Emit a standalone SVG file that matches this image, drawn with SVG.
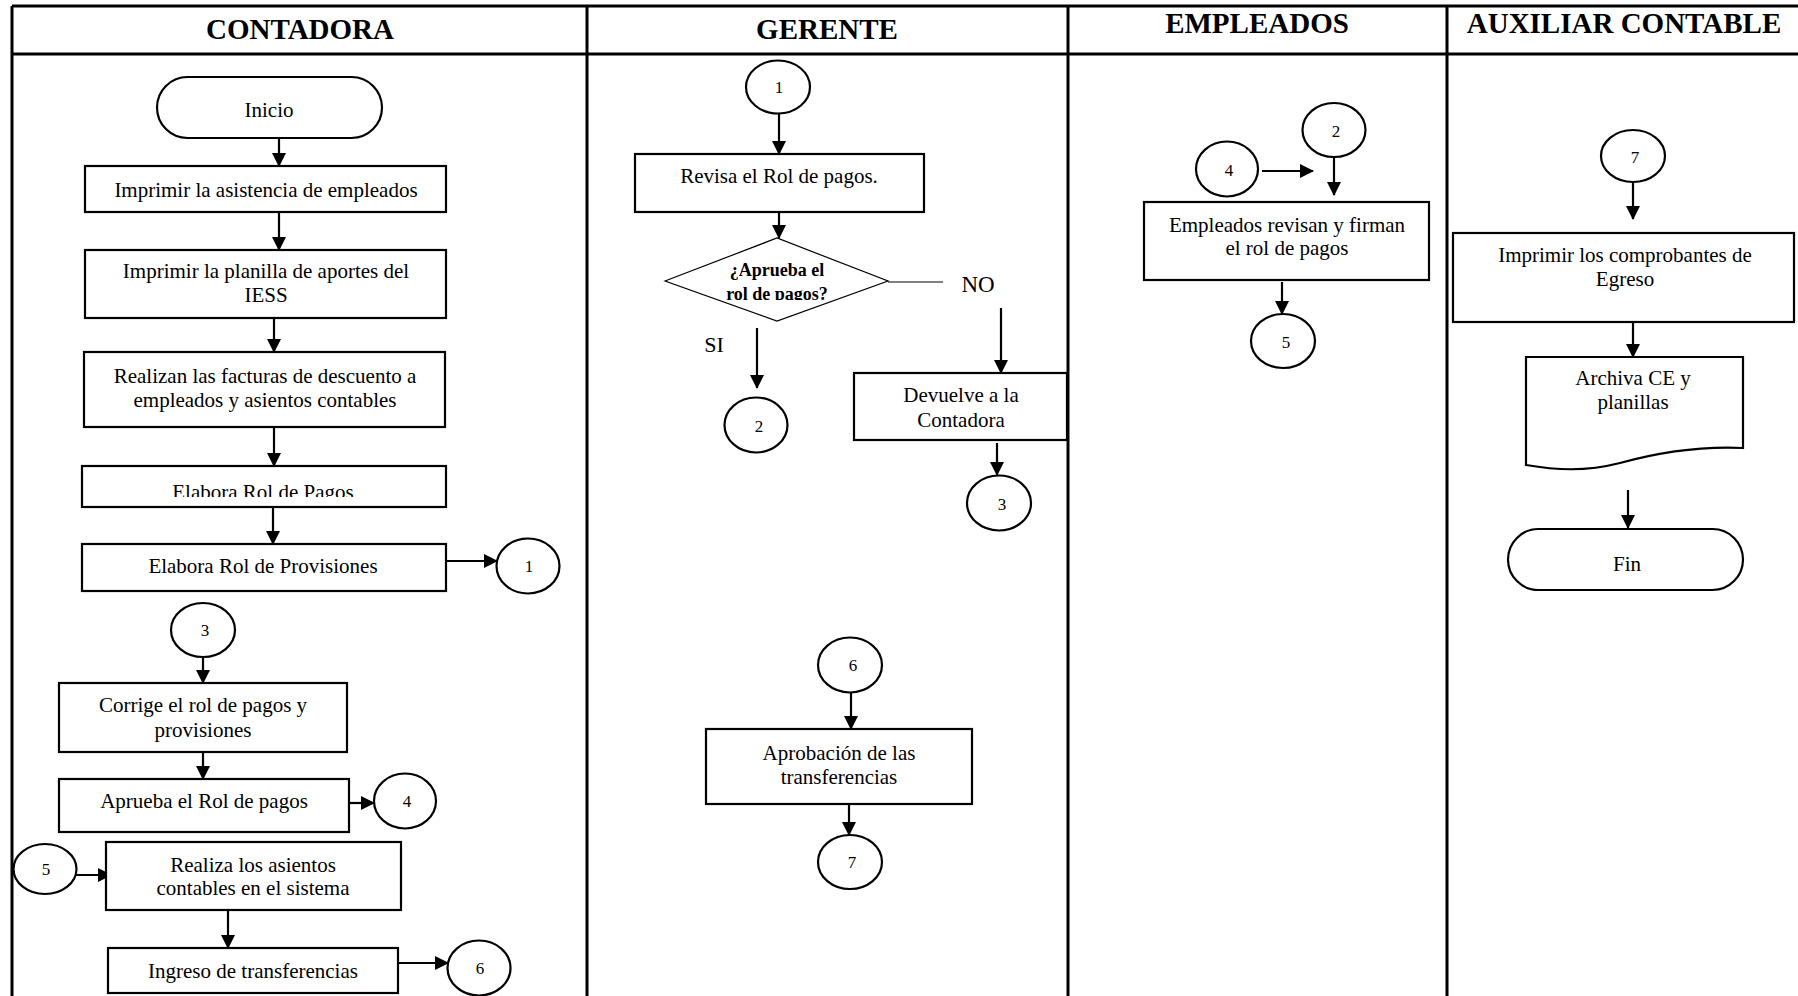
<svg xmlns="http://www.w3.org/2000/svg" width="1798" height="996" viewBox="0 0 1798 996">
  <style>
    text { font-family: "Liberation Serif", "Times New Roman", serif; fill: #000; }
    .hdr { font-size: 29px; font-weight: bold; text-anchor: middle; }
    .lbl { font-size: 21px; text-anchor: middle; }
    .num { font-size: 17px; text-anchor: middle; }
    .dec { font-size: 18px; font-weight: bold; text-anchor: middle; }
    .lane { stroke: #000; stroke-width: 3; fill: none; }
    .box { fill: #fff; stroke: #000; stroke-width: 2.2; }
    .circ { fill: #fff; stroke: #000; stroke-width: 2.2; }
    .thin { fill: #fff; stroke: #000; stroke-width: 1.2; }
    .arr { stroke: #000; stroke-width: 2.2; fill: none; marker-end: url(#head); }
    .ln { stroke: #000; stroke-width: 1.2; fill: none; }
  </style>
  <defs>
    <marker id="head" markerUnits="userSpaceOnUse" markerWidth="14" markerHeight="14" viewBox="0 0 14 14" refX="13" refY="7" orient="auto">
      <path d="M0,0 L14,7 L0,14 Z" fill="#000"/>
    </marker>
    <clipPath id="clipPagos"><rect x="82" y="466" width="364" height="31"/></clipPath>
    <clipPath id="clipDec"><rect x="660" y="238" width="240" height="62"/></clipPath>
  </defs>

  <rect x="0" y="0" width="1798" height="996" fill="#fff"/>

  <!-- swimlane frame -->
  <g id="lanes">
    <path class="lane" d="M12,6 H1798 M12,54 H1798 M12,6 V996 M587,6 V996 M1068,6 V996 M1447,6 V996"/>
    <text class="hdr" x="300" y="39">CONTADORA</text>
    <text class="hdr" x="827" y="39">GERENTE</text>
    <text class="hdr" x="1257" y="33">EMPLEADOS</text>
    <text class="hdr" x="1624" y="33">AUXILIAR CONTABLE</text>
  </g>

  <!-- connectors -->
  <g id="connectors">
    <line class="arr" x1="279" y1="137" x2="279" y2="166"/>
    <line class="arr" x1="279" y1="204" x2="279" y2="250"/>
    <line class="arr" x1="274" y1="318" x2="274" y2="352"/>
    <line class="arr" x1="274" y1="427" x2="274" y2="466"/>
    <line class="arr" x1="273" y1="504" x2="273" y2="544"/>
    <line class="arr" x1="446" y1="561" x2="497" y2="561"/>
    <line class="arr" x1="203" y1="657" x2="203" y2="683"/>
    <line class="arr" x1="203" y1="743" x2="203" y2="779"/>
    <line class="arr" x1="349" y1="803" x2="374" y2="803"/>
    <line class="arr" x1="76" y1="875" x2="111" y2="875"/>
    <line class="arr" x1="228" y1="910" x2="228" y2="948"/>
    <line class="arr" x1="398" y1="963" x2="448" y2="963"/>

    <line class="arr" x1="779" y1="113" x2="779" y2="154"/>
    <line class="arr" x1="779" y1="212" x2="779" y2="238"/>
    <line class="ln" x1="888" y1="282" x2="943" y2="282"/>
    <line class="arr" x1="1001" y1="308" x2="1001" y2="373"/>
    <line class="arr" x1="757" y1="328" x2="757" y2="388"/>
    <line class="arr" x1="997" y1="443" x2="997" y2="475"/>
    <line class="arr" x1="851" y1="692" x2="851" y2="729"/>
    <line class="arr" x1="849" y1="804" x2="849" y2="835"/>

    <line class="arr" x1="1262" y1="171" x2="1313" y2="171"/>
    <line class="arr" x1="1334" y1="157" x2="1334" y2="195"/>
    <line class="arr" x1="1282" y1="282" x2="1282" y2="314"/>

    <line class="arr" x1="1633" y1="182" x2="1633" y2="219"/>
    <line class="arr" x1="1633" y1="322" x2="1633" y2="357"/>
    <line class="arr" x1="1628" y1="490" x2="1628" y2="528"/>
  </g>

  <!-- CONTADORA -->
  <g id="inicio">
    <rect class="box" x="157" y="77" width="225" height="61" rx="30.5"/>
    <text class="lbl" x="269" y="117">Inicio</text>
  </g>
  <g id="imprimir-asistencia">
    <rect class="box" x="85" y="166" width="361" height="46"/>
    <text class="lbl" x="266" y="197">Imprimir la asistencia de empleados</text>
  </g>
  <g id="imprimir-planilla">
    <rect class="box" x="85" y="250" width="361" height="68"/>
    <text class="lbl" x="266" y="278">Imprimir la planilla de aportes del</text>
    <text class="lbl" x="266" y="302">IESS</text>
  </g>
  <g id="realizan-facturas">
    <rect class="box" x="84" y="352" width="361" height="75"/>
    <text class="lbl" x="265" y="383">Realizan las facturas de descuento a</text>
    <text class="lbl" x="265" y="407">empleados y asientos contables</text>
  </g>
  <g id="elabora-pagos">
    <rect class="box" x="82" y="466" width="364" height="41"/>
    <text class="lbl" x="263" y="499" clip-path="url(#clipPagos)">Elabora Rol de Pagos</text>
  </g>
  <g id="elabora-provisiones">
    <rect class="box" x="82" y="544" width="364" height="47"/>
    <text class="lbl" x="263" y="573">Elabora Rol de Provisiones</text>
  </g>
  <g id="c1-out">
    <ellipse class="circ" cx="528" cy="566" rx="31.5" ry="27.5"/>
    <text class="num" x="529" y="572">1</text>
  </g>
  <g id="c3-in">
    <ellipse class="circ" cx="203" cy="630" rx="32" ry="27"/>
    <text class="num" x="205" y="636">3</text>
  </g>
  <g id="corrige">
    <rect class="box" x="59" y="683" width="288" height="69"/>
    <text class="lbl" x="203" y="712">Corrige el rol de pagos y</text>
    <text class="lbl" x="203" y="737">provisiones</text>
  </g>
  <g id="aprueba">
    <rect class="box" x="59" y="779" width="290" height="53"/>
    <text class="lbl" x="204" y="808">Aprueba el Rol de pagos</text>
  </g>
  <g id="c4-out">
    <ellipse class="circ" cx="405" cy="801" rx="31" ry="27.5"/>
    <text class="num" x="407" y="807">4</text>
  </g>
  <g id="c5-in">
    <ellipse class="circ" cx="45" cy="869" rx="31.5" ry="25"/>
    <text class="num" x="46" y="875">5</text>
  </g>
  <g id="realiza-asientos">
    <rect class="box" x="106" y="842" width="295" height="68"/>
    <text class="lbl" x="253" y="872">Realiza los asientos</text>
    <text class="lbl" x="253" y="895">contables en el sistema</text>
  </g>
  <g id="ingreso">
    <rect class="box" x="108" y="948" width="290" height="45"/>
    <text class="lbl" x="253" y="978">Ingreso de transferencias</text>
  </g>
  <g id="c6-out">
    <ellipse class="circ" cx="479" cy="968" rx="31.5" ry="27.5"/>
    <text class="num" x="480" y="974">6</text>
  </g>

  <!-- GERENTE -->
  <g id="c1-in">
    <ellipse class="circ" cx="778" cy="87" rx="32" ry="26.5"/>
    <text class="num" x="779" y="93">1</text>
  </g>
  <g id="revisa">
    <rect class="box" x="635" y="154" width="289" height="58"/>
    <text class="lbl" x="779" y="183">Revisa el Rol de pagos.</text>
  </g>
  <g id="decision">
    <polygon class="thin" points="665,281 777,238 888,281 777,321"/>
    <text class="dec" x="777" y="276">¿Aprueba el</text>
    <text class="dec" x="777" y="300" clip-path="url(#clipDec)">rol de pagos?</text>
    <text class="lbl" x="978" y="292" style="font-size:23px">NO</text>
    <text class="lbl" x="714" y="352" style="font-size:22px">SI</text>
  </g>
  <g id="c2-out">
    <ellipse class="circ" cx="756" cy="425" rx="31.5" ry="27.5"/>
    <text class="num" x="759" y="432">2</text>
  </g>
  <g id="devuelve">
    <rect class="box" x="854" y="373" width="213" height="67"/>
    <text class="lbl" x="961" y="402">Devuelve a la</text>
    <text class="lbl" x="961" y="427">Contadora</text>
  </g>
  <g id="c3-out">
    <ellipse class="circ" cx="999" cy="503" rx="32" ry="27.5"/>
    <text class="num" x="1002" y="510">3</text>
  </g>
  <g id="c6-in">
    <ellipse class="circ" cx="850" cy="665" rx="32" ry="27.5"/>
    <text class="num" x="853" y="671">6</text>
  </g>
  <g id="aprobacion">
    <rect class="box" x="706" y="729" width="266" height="75"/>
    <text class="lbl" x="839" y="760">Aprobación de las</text>
    <text class="lbl" x="839" y="784">transferencias</text>
  </g>
  <g id="c7-out">
    <ellipse class="circ" cx="850" cy="862" rx="32" ry="27"/>
    <text class="num" x="852" y="868">7</text>
  </g>

  <!-- EMPLEADOS -->
  <g id="c4-in">
    <ellipse class="circ" cx="1227" cy="169" rx="31" ry="27.5"/>
    <text class="num" x="1229" y="176">4</text>
  </g>
  <g id="c2-in">
    <ellipse class="circ" cx="1334" cy="130" rx="31.5" ry="27"/>
    <text class="num" x="1336" y="137">2</text>
  </g>
  <g id="empleados-firman">
    <rect class="box" x="1144" y="202" width="285" height="78"/>
    <text class="lbl" x="1287" y="232">Empleados revisan y firman</text>
    <text class="lbl" x="1287" y="255">el rol de pagos</text>
  </g>
  <g id="c5-out">
    <ellipse class="circ" cx="1283" cy="341" rx="32" ry="27"/>
    <text class="num" x="1286" y="348">5</text>
  </g>

  <!-- AUXILIAR CONTABLE -->
  <g id="c7-in">
    <ellipse class="circ" cx="1633" cy="156" rx="32" ry="26"/>
    <text class="num" x="1635" y="163">7</text>
  </g>
  <g id="imprimir-comprobantes">
    <rect class="box" x="1453" y="233" width="341" height="89"/>
    <text class="lbl" x="1625" y="262">Imprimir los comprobantes de</text>
    <text class="lbl" x="1625" y="286">Egreso</text>
  </g>
  <g id="archiva">
    <path class="box" d="M1526,357 H1743 V448 C1700,446 1660,452 1620,463 C1585,472 1555,470 1526,465 Z"/>
    <text class="lbl" x="1633" y="385">Archiva CE y</text>
    <text class="lbl" x="1633" y="409">planillas</text>
  </g>
  <g id="fin">
    <rect class="box" x="1508" y="529" width="235" height="61" rx="30.5"/>
    <text class="lbl" x="1627" y="571">Fin</text>
  </g>
</svg>
